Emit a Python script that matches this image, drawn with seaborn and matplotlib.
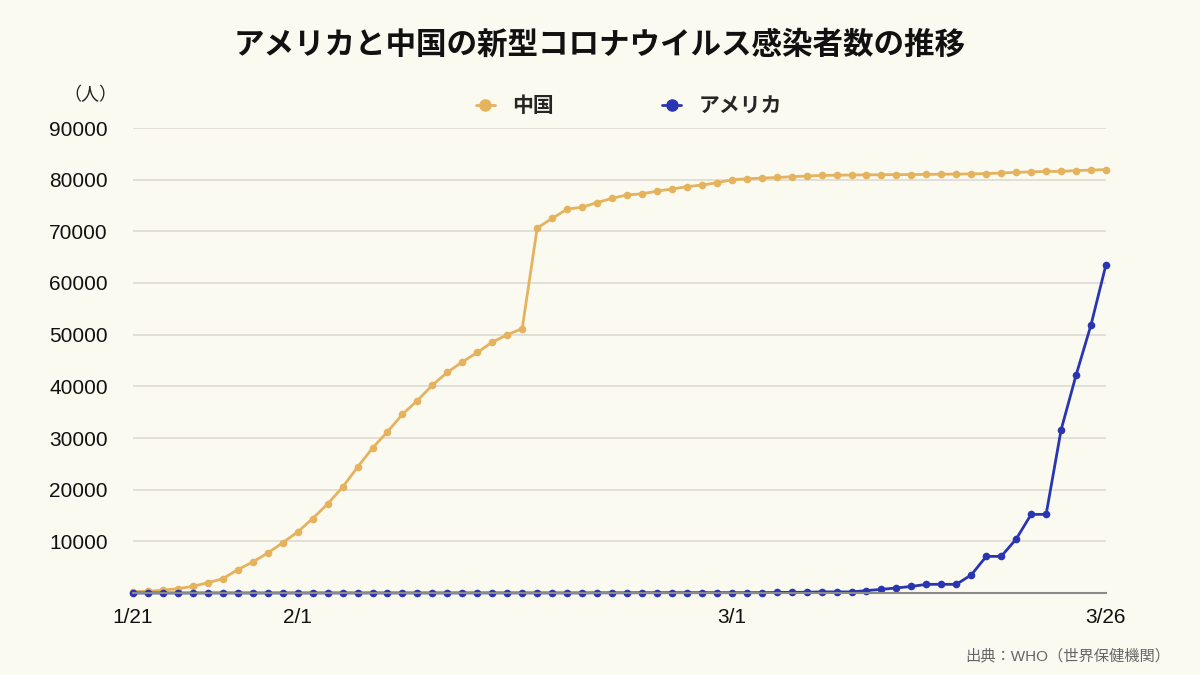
import numpy as np
import pandas as pd
import matplotlib
matplotlib.use("Agg")
import matplotlib.pyplot as plt
from matplotlib.lines import Line2D
import seaborn as sns

# ---- data (WHO situation reports, cumulative confirmed cases) ----
dates = pd.date_range("2020-01-21", "2020-03-26", freq="D")
china = [278, 310, 571, 830, 1297, 1985, 2761, 4537, 5997, 7736,
         9720, 11821, 14411, 17238, 20471, 24363, 28060, 31211, 34598, 37251,
         40235, 42708, 44730, 46550, 48548, 49986, 51174, 70635, 72528, 74280,
         74675, 75569, 76392, 77042, 77262, 77780, 78191, 78630, 78961, 79394,
         79968, 80174, 80304, 80422, 80565, 80711, 80813, 80859, 80904, 80924,
         80955, 80981, 80991, 81021, 81048, 81077, 81116, 81174, 81300, 81416,
         81498, 81603, 81601, 81767, 81848, 81961]
usa = [1, 1, 1, 2, 2, 5, 5, 5, 5, 5,
       6, 7, 8, 11, 11, 11, 12, 12, 12, 12,
       12, 13, 13, 14, 15, 15, 15, 15, 15, 15,
       15, 35, 35, 35, 53, 53, 59, 59, 62, 62,
       62, 62, 64, 108, 129, 148, 213, 213, 213, 472,
       696, 987, 1264, 1678, 1678, 1678, 3503, 7087, 7087, 10442,
       15219, 15219, 31573, 42164, 51914, 63570]
series_names = ["中国", "アメリカ"]
tick_dates = ["2020-01-21", "2020-02-01", "2020-03-01", "2020-03-26"]
tick_labels = ["1/21", "2/1", "3/1", "3/26"]
y_ticks = [10000, 20000, 30000, 40000, 50000, 60000, 70000, 80000, 90000]

day = np.arange(len(dates))
df = pd.DataFrame({
    "day": np.concatenate([day, day]),
    "cases": china + usa,
    "country": [series_names[0]] * len(day) + [series_names[1]] * len(day),
})

BG = "#FBFAF0"
GOLD = "#E5B25E"
BLUE = "#2A35B2"

sns.set_theme(style="white")
plt.rcParams["font.family"] = ["Noto Sans CJK JP", "DejaVu Sans"]

fig = plt.figure(figsize=(12, 6.75), dpi=100, facecolor=BG)
ax = fig.add_axes([133 / 1200, 1 - 593 / 675, (1106 - 133) / 1200, (593 - 128) / 675])
ax.set_facecolor(BG)

sns.lineplot(data=df, x="day", y="cases", hue="country",
             palette={series_names[0]: GOLD, series_names[1]: BLUE},
             hue_order=series_names, marker="o", markersize=5.5,
             markeredgewidth=0, linewidth=2.0, ax=ax, legend=False)
for ln in ax.lines:
    ln.set_clip_on(False)

ax.set_xlim(0, len(day) - 1)
ax.set_ylim(0, 90000)
ax.set_yticks(y_ticks)
ax.set_yticklabels([str(v) for v in y_ticks], family=["Liberation Sans"], fontsize=15, color="#111111")
tick_pos = [int((pd.Timestamp(d) - dates[0]).days) for d in tick_dates]
ax.set_xticks(tick_pos)
ax.set_xticklabels(tick_labels, family=["Liberation Sans"], fontsize=15, color="#111111")
ax.tick_params(axis="y", length=0, pad=18)
ax.tick_params(axis="x", length=0, pad=11)
ax.set_xlabel("")
ax.set_ylabel("")
ax.yaxis.grid(True, color="#DCDAD2", linewidth=1.2)
ax.xaxis.grid(False)
for s in ["top", "right", "left"]:
    ax.spines[s].set_visible(False)
ax.spines["bottom"].set_color("#8A8A8A")
ax.spines["bottom"].set_linewidth(1.5)
ax.set_axisbelow(True)

fig.text(0.5, 1 - 45 / 675, "アメリカと中国の新型コロナウイルス感染者数の推移",
         ha="center", va="center", fontsize=22, fontweight="bold", color="#111111")
fig.text(117 / 1200, 1 - 95 / 675, "（人）", ha="right", va="center",
         fontsize=13, color="#222222")

handles = [Line2D([], [], marker="o", linestyle="-", linewidth=2, markersize=8, color=GOLD),
           Line2D([], [], marker="o", linestyle="-", linewidth=2, markersize=8, color=BLUE)]
leg = fig.legend(handles, series_names, loc="center", bbox_to_anchor=(629 / 1200, 1 - 106 / 675),
                 ncol=2, frameon=False, columnspacing=5.2, handletextpad=0.85, handlelength=0.9,
                 prop={"weight": "bold", "size": 15})

fig.text(1170 / 1200, 1 - 656 / 675, "出典：WHO（世界保健機関）", ha="right", va="center",
         fontsize=11, color="#666666", family=["Liberation Sans", "Noto Sans CJK JP"])

fig.savefig("out.png", dpi=100, facecolor=BG)
